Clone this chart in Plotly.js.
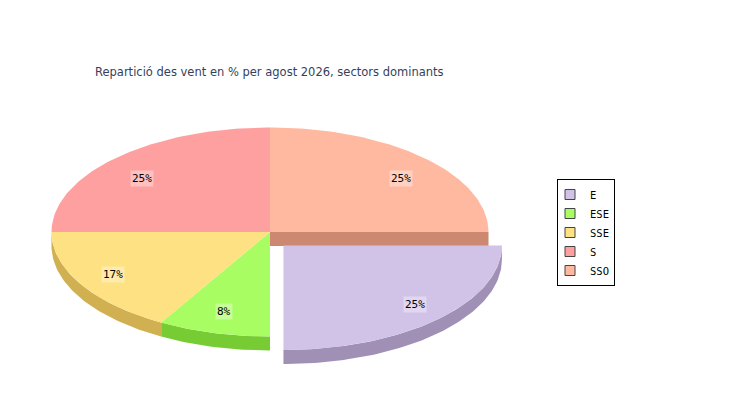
<!DOCTYPE html>
<html>
<head>
<meta charset="utf-8">
<script src="https://cdn.plot.ly/plotly-3.0.1.min.js"></script>
<style>html,body{margin:0;padding:0;background:#fff;}#chart{width:750px;height:400px;}</style>
</head>
<body>
<div id="chart"></div>
<script>
// ---- data ----
var sectors = ["E", "ESE", "SSE", "S", "SSO"];
var percents = [25, 8.3, 16.7, 25, 25];
var exploded = ["E"];
var topColors = ["#d1c2e8", "#a8fd62", "#fee182", "#fea09f", "#ffb9a0"];
var sideColors = ["#a190b6", "#77cc33", "#d0b050", "#cc7f7f", "#cc8870"];
var titleText = "Repartició des vent en % per agost 2026, sectors dominants";

// ---- geometry (layout, in pixel units of the hidden axes) ----
var CX = 270, CY = 232, RX = 218.5, RY = 104.5, DEPTH = 14, EXPLODE = 19;
var LABF_X = 0.84, LABF_Y = 0.76, LAB_DX = 1.5, LAB_DY = 3;

function pt(c, a, dz) {
  var r = a * Math.PI / 180;
  return [c[0] + RX * Math.cos(r), c[1] - RY * Math.sin(r) + (dz || 0)];
}
function arc(c, a1, a2, dz) {
  var pts = [], n = Math.max(2, Math.ceil(Math.abs(a2 - a1)));
  for (var i = 0; i <= n; i++) pts.push(pt(c, a1 + (a2 - a1) * i / n, dz));
  return pts;
}
function poly(pts, color, name) {
  return {
    type: "scatter", mode: "lines", fill: "toself", fillcolor: color,
    x: pts.map(function (p) { return p[0]; }),
    y: pts.map(function (p) { return p[1]; }),
    line: {width: 0, color: color}, hoverinfo: "skip", showlegend: false, name: name
  };
}

var total = percents.reduce(function (a, b) { return a + b; }, 0);
var slices = [], ang = 360;
for (var i = 0; i < sectors.length; i++) {
  var span = percents[i] / total * 360;
  var a2 = ang, a1 = ang - span; // clockwise from 3 o'clock
  var mid = (a1 + a2) / 2;
  var isEx = exploded.indexOf(sectors[i]) >= 0;
  var c = [CX, CY];
  if (isEx) {
    c = [CX + EXPLODE * Math.cos(mid * Math.PI / 180), CY - EXPLODE * Math.sin(mid * Math.PI / 180)];
  }
  slices.push({i: i, a1: a1, a2: a2, mid: mid, c: c, ex: isEx});
  ang = a1;
}

function norm(a) { return ((a % 360) + 360) % 360; }
function sideTrace(s) {
  var lo = Math.max(s.a1, 180), hi = Math.min(s.a2, 360);
  if (hi <= lo) return null;
  var top = arc(s.c, lo, hi, 0), bot = arc(s.c, hi, lo, DEPTH);
  return poly(top.concat(bot), sideColors[s.i], sectors[s.i]);
}
function topTrace(s) {
  var pts = [s.c].concat(arc(s.c, s.a1, s.a2, 0)).concat([s.c]);
  return poly(pts, topColors[s.i], sectors[s.i]);
}
// radial face of a slice uncovered by an exploded neighbour
function radialFace(s, a) {
  var e = pt(s.c, a, 0);
  var pts = [s.c, e, [e[0], e[1] + DEPTH], [s.c[0], s.c[1] + DEPTH]];
  return poly(pts, sideColors[s.i], sectors[s.i]);
}

var traces = [];
var normal = slices.filter(function (s) { return !s.ex; });
var expl = slices.filter(function (s) { return s.ex; });
normal.forEach(function (s) { var t = sideTrace(s); if (t) traces.push(t); });
expl.forEach(function (e) {
  normal.forEach(function (s) {
    if (Math.abs(norm(s.a1) - norm(e.a2)) < 0.01) {
      var sa = norm(s.a1);
      if (sa < 90 || sa > 270) traces.push(radialFace(s, s.a1));
    }
  });
});
normal.forEach(function (s) { traces.push(topTrace(s)); });
expl.forEach(function (s) { var t = sideTrace(s); if (t) traces.push(t); traces.push(topTrace(s)); });

// legend entries
sectors.forEach(function (name, i) {
  traces.push({
    type: "scatter", mode: "markers", x: [null], y: [null], name: name,
    marker: {symbol: "square", size: 10, color: topColors[i], line: {color: "#444", width: 1}},
    showlegend: true, hoverinfo: "skip"
  });
});

var annotations = slices.map(function (s) {
  var r = s.mid * Math.PI / 180;
  return {
    x: s.c[0] + RX * LABF_X * Math.cos(r) + LAB_DX, y: s.c[1] - RY * LABF_Y * Math.sin(r) + LAB_DY,
    xref: "x", yref: "y", showarrow: false,
    text: Math.round(percents[s.i] / total * 100) + "%",
    font: {family: "DejaVu Sans Mono", size: 11, color: "#000"},
    bgcolor: "rgba(255,255,255,0.35)", borderpad: 1
  };
});

var layout = {
  width: 750, height: 400,
  margin: {l: 0, r: 0, t: 0, b: 0},
  paper_bgcolor: "#fff", plot_bgcolor: "#fff",
  xaxis: {range: [0, 750], visible: false, fixedrange: true},
  yaxis: {range: [400, 0], visible: false, fixedrange: true},
  title: {text: titleText, x: 95 / 750, xanchor: "left", y: 1 - 72 / 400, yanchor: "middle",
          font: {family: "DejaVu Sans", size: 11.5, color: "#353f5b"}},
  showlegend: true,
  legend: {x: 557 / 750, y: 1 - 179 / 400, xanchor: "left", yanchor: "top",
           bordercolor: "#000", borderwidth: 1, bgcolor: "#fff",
           font: {family: "DejaVu Sans Mono", size: 10.5, color: "#000"},
           itemwidth: 30, tracegroupgap: 0, indentation: -8},
  annotations: annotations
};

Plotly.newPlot("chart", traces, layout, {displayModeBar: false, staticPlot: true});
</script>
</body>
</html>
